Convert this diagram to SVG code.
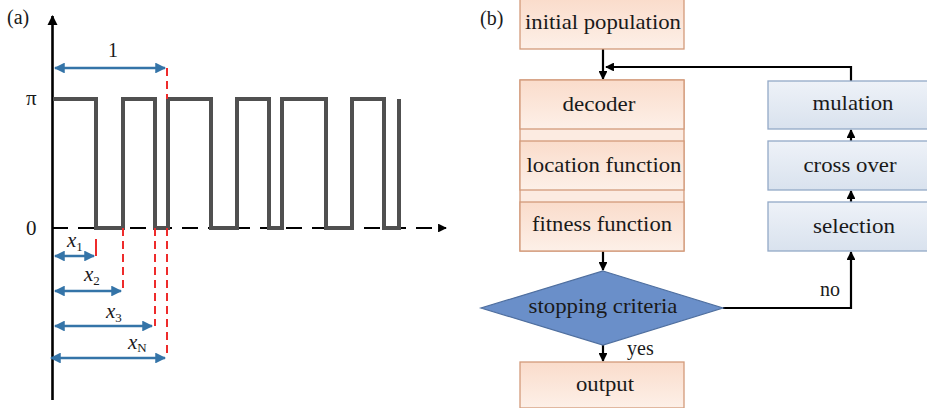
<svg xmlns="http://www.w3.org/2000/svg" width="927" height="408" viewBox="0 0 927 408" font-family="'Liberation Serif', 'DejaVu Serif', serif">
<defs>
<linearGradient id="peach" x1="0" y1="0" x2="0" y2="1">
<stop offset="0" stop-color="#fadccb"/>
<stop offset="1" stop-color="#fdf0e8"/>
</linearGradient>
<linearGradient id="bluegray" x1="0" y1="0" x2="0" y2="1">
<stop offset="0" stop-color="#eef2f8"/>
<stop offset="1" stop-color="#d9e2ee"/>
</linearGradient>
<marker id="ah" viewBox="0 0 10 10" refX="9" refY="5" markerWidth="4" markerHeight="4" orient="auto-start-reverse">
<path d="M0,0 L10,5 L0,10 z" fill="#000"/>
</marker>
<marker id="bh" viewBox="0 0 10 10" refX="9" refY="5" markerWidth="4.5" markerHeight="4.5" orient="auto-start-reverse">
<path d="M0,0 L10,5 L0,10 z" fill="#3474a8"/>
</marker>
</defs>
<style>
text{font-family:'Liberation Serif','DejaVu Serif',serif;fill:#1a1a1a;}
.lbl{font-size:21px;text-anchor:middle;}
.peach{fill:url(#peach);stroke:#d39a7a;stroke-width:1.3;}
.blue{fill:url(#bluegray);stroke:#93a9c7;stroke-width:1.3;}
.conn{fill:none;stroke:#000;stroke-width:2.2;}
.blu{fill:none;stroke:#3474a8;stroke-width:2.4;}
.red{fill:none;stroke:#ee2b2b;stroke-width:2;stroke-dasharray:8 5;}
.mx{font-size:21px;font-style:italic;}
.sub{font-size:13px;}
</style>

<!-- Panel (a) -->
<g id="panel-a">
<text x="7" y="24" style="font-size:20px">(a)</text>
<line x1="52.5" y1="400" x2="52.5" y2="16" stroke="#000" stroke-width="2.6" marker-end="url(#ah)"/>
<line x1="52" y1="228" x2="446" y2="228" stroke="#000" stroke-width="2.2" stroke-dasharray="16 10" marker-end="url(#ah)"/>
<path d="M53,99 H96 V228 H123 V99 H155 V228 H168 V99 H211 V228 H237 V99 H269 V228 H282 V99 H326 V228 H352 V99 H384 V228 H399 V99" fill="none" stroke="#505050" stroke-width="4"/>
<text x="26" y="105" style="font-size:21px">π</text>
<text x="26" y="235" style="font-size:21px">0</text>
<text x="108" y="57" style="font-size:20px">1</text>
<!-- red dashed markers -->
<line class="red" x1="167" y1="68" x2="167" y2="99"/>
<line x1="96" y1="239" x2="96" y2="256" stroke="#ee2b2b" stroke-width="2"/>
<line class="red" x1="123" y1="228" x2="123" y2="291"/>
<line class="red" x1="155" y1="228" x2="155" y2="326"/>
<line class="red" x1="167" y1="228" x2="167" y2="358"/>
<!-- blue dimension arrows -->
<line class="blu" x1="55" y1="68" x2="165" y2="68" marker-start="url(#bh)" marker-end="url(#bh)"/>
<line class="blu" x1="55" y1="256" x2="94" y2="256" marker-start="url(#bh)" marker-end="url(#bh)"/>
<line class="blu" x1="55" y1="291" x2="121" y2="291" marker-start="url(#bh)" marker-end="url(#bh)"/>
<line class="blu" x1="55" y1="326" x2="152" y2="326" marker-start="url(#bh)" marker-end="url(#bh)"/>
<line class="blu" x1="51" y1="358" x2="165" y2="358" marker-start="url(#bh)" marker-end="url(#bh)"/>
<text x="67" y="247"><tspan class="mx">x</tspan><tspan class="sub" dy="4">1</tspan></text>
<text x="84" y="281"><tspan class="mx">x</tspan><tspan class="sub" dy="4">2</tspan></text>
<text x="106" y="318"><tspan class="mx">x</tspan><tspan class="sub" dy="4">3</tspan></text>
<text x="128" y="349"><tspan class="mx">x</tspan><tspan class="sub" dy="3">N</tspan></text>
</g>

<!-- Panel (b) -->
<text x="480" y="25" style="font-size:20px">(b)</text>

<g id="connectors">
<line class="conn" x1="603" y1="49" x2="603" y2="79" marker-end="url(#ah)"/>
<polyline class="conn" points="851,81 851,67 606,67" marker-end="url(#ah)"/>
<line class="conn" x1="851" y1="141" x2="851" y2="130" marker-end="url(#ah)"/>
<line class="conn" x1="851" y1="202" x2="851" y2="191" marker-end="url(#ah)"/>
<line class="conn" x1="603" y1="251" x2="603" y2="270" marker-end="url(#ah)"/>
<polyline class="conn" points="723,308 851,308 851,252" marker-end="url(#ah)"/>
<line class="conn" x1="603" y1="345" x2="603" y2="361" marker-end="url(#ah)"/>
<text x="820" y="296" style="font-size:20px">no</text>
<text x="627" y="355" style="font-size:20px">yes</text>
</g>

<g id="initial-population">
<rect class="peach" x="520" y="-1" width="164" height="50"/>
<text class="lbl" x="603" y="29" textLength="156" lengthAdjust="spacingAndGlyphs">initial population</text>
</g>

<g id="eval-column">
<rect x="520" y="80" width="164" height="171" fill="#fcebe1" stroke="#d39a7a" stroke-width="1.3"/>
</g>
<g id="decoder">
<rect class="peach" x="520" y="80" width="164" height="49"/>
<text class="lbl" x="599" y="111" textLength="73" lengthAdjust="spacingAndGlyphs">decoder</text>
</g>
<g id="location-function">
<rect class="peach" x="520" y="141" width="164" height="49"/>
<text class="lbl" x="604" y="172" textLength="155" lengthAdjust="spacingAndGlyphs">location function</text>
</g>
<g id="fitness-function">
<rect class="peach" x="520" y="202" width="164" height="49"/>
<text class="lbl" x="602" y="231" textLength="140" lengthAdjust="spacingAndGlyphs">fitness function</text>
</g>

<g id="mulation">
<rect class="blue" x="768" y="81" width="165" height="48"/>
<text class="lbl" x="853" y="110" textLength="81" lengthAdjust="spacingAndGlyphs">mulation</text>
</g>
<g id="cross-over">
<rect class="blue" x="768" y="141" width="165" height="49"/>
<text class="lbl" x="850" y="172" textLength="93" lengthAdjust="spacingAndGlyphs">cross over</text>
</g>
<g id="selection">
<rect class="blue" x="768" y="202" width="165" height="49"/>
<text class="lbl" x="854" y="233" textLength="82" lengthAdjust="spacingAndGlyphs">selection</text>
</g>

<g id="stopping-criteria">
<polygon points="603,271 723,308 603,345 481,308" fill="#6a8fc9" stroke="#4f6f9f" stroke-width="1.2"/>
<text class="lbl" x="603" y="313" textLength="149" lengthAdjust="spacingAndGlyphs">stopping criteria</text>
</g>

<g id="output">
<rect class="peach" x="520" y="362" width="164" height="46"/>
<text class="lbl" x="605" y="391" textLength="58" lengthAdjust="spacingAndGlyphs">output</text>
</g>
</svg>
